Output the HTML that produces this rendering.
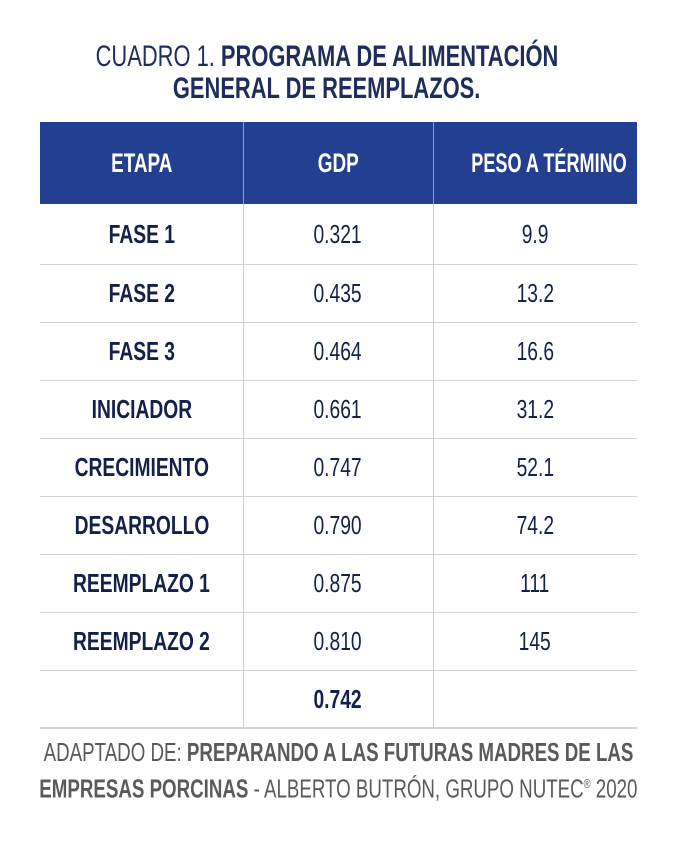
<!DOCTYPE html>
<html><head><meta charset="utf-8"><style>
body{margin:0;width:677px;height:846px;background:#fff;position:relative;overflow:hidden;font-family:"Liberation Sans",sans-serif}
.t{position:absolute;text-align:center;white-space:nowrap}
.t span{display:inline-block;transform:scaleX(.74);transform-origin:center}
.h{position:absolute;background:#d4d4d4}
.v{position:absolute;background:#cfcfcf;width:1px}
.c{font-size:26px;color:#13204a;line-height:58px;height:58px}
.b{font-weight:bold}
</style></head><body>
<div class="t" style="left:-312px;width:1277px;top:40px;font-size:30px;line-height:34px;color:#1f2d5c"><span style="transform:scaleX(.73)">CUADRO 1. <b>PROGRAMA DE ALIMENTACIÓN</b></span></div>
<div class="t" style="left:-312px;width:1277px;top:72px;font-size:30px;line-height:34px;color:#1f2d5c;font-weight:bold"><span style="transform:scaleX(.73)">GENERAL DE REEMPLAZOS.</span></div>
<div style="position:absolute;left:40px;top:122px;width:597px;height:82px;background:#22408f"></div>
<div class="v" style="left:243px;top:122px;height:605px;background:#8aa0cc"></div>
<div class="v" style="left:433px;top:122px;height:605px;background:#8aa0cc"></div>
<div class="v" style="left:243px;top:204px;height:523px"></div>
<div class="v" style="left:433px;top:204px;height:523px"></div>
<div class="t b" style="left:40px;width:203px;top:122px;line-height:82px;font-size:27px;color:#fff"><span style="transform:scaleX(.7)">ETAPA</span></div>
<div class="t b" style="left:243px;width:190px;top:122px;line-height:82px;font-size:27px;color:#fff"><span style="transform:scaleX(.7)">GDP</span></div>
<div class="t b" style="left:433px;width:204px;top:122px;line-height:82px;font-size:27px;color:#fff"><span style="transform:scaleX(.67)">PESO A TÉRMINO</span></div>
<div class="h" style="left:40px;width:597px;top:264px;height:1px"></div>
<div class="h" style="left:40px;width:597px;top:322px;height:1px"></div>
<div class="h" style="left:40px;width:597px;top:380px;height:1px"></div>
<div class="h" style="left:40px;width:597px;top:438px;height:1px"></div>
<div class="h" style="left:40px;width:597px;top:496px;height:1px"></div>
<div class="h" style="left:40px;width:597px;top:554px;height:1px"></div>
<div class="h" style="left:40px;width:597px;top:612px;height:1px"></div>
<div class="h" style="left:40px;width:597px;top:670px;height:1px"></div>
<div class="h" style="left:40px;width:597px;top:727px;height:2px"></div>

<div class="t c b" style="left:40px;width:203px;top:205px"><span>FASE 1</span></div>
<div class="t c" style="left:243px;width:190px;top:205px"><span>0.321</span></div>
<div class="t c" style="left:433px;width:204px;top:205px"><span>9.9</span></div>
<div class="t c b" style="left:40px;width:203px;top:264px"><span>FASE 2</span></div>
<div class="t c" style="left:243px;width:190px;top:264px"><span>0.435</span></div>
<div class="t c" style="left:433px;width:204px;top:264px"><span>13.2</span></div>
<div class="t c b" style="left:40px;width:203px;top:322px"><span>FASE 3</span></div>
<div class="t c" style="left:243px;width:190px;top:322px"><span>0.464</span></div>
<div class="t c" style="left:433px;width:204px;top:322px"><span>16.6</span></div>
<div class="t c b" style="left:40px;width:203px;top:380px"><span>INICIADOR</span></div>
<div class="t c" style="left:243px;width:190px;top:380px"><span>0.661</span></div>
<div class="t c" style="left:433px;width:204px;top:380px"><span>31.2</span></div>
<div class="t c b" style="left:40px;width:203px;top:438px"><span>CRECIMIENTO</span></div>
<div class="t c" style="left:243px;width:190px;top:438px"><span>0.747</span></div>
<div class="t c" style="left:433px;width:204px;top:438px"><span>52.1</span></div>
<div class="t c b" style="left:40px;width:203px;top:496px"><span>DESARROLLO</span></div>
<div class="t c" style="left:243px;width:190px;top:496px"><span>0.790</span></div>
<div class="t c" style="left:433px;width:204px;top:496px"><span>74.2</span></div>
<div class="t c b" style="left:40px;width:203px;top:554px"><span>REEMPLAZO 1</span></div>
<div class="t c" style="left:243px;width:190px;top:554px"><span>0.875</span></div>
<div class="t c" style="left:433px;width:204px;top:554px"><span>111</span></div>
<div class="t c b" style="left:40px;width:203px;top:612px"><span>REEMPLAZO 2</span></div>
<div class="t c" style="left:243px;width:190px;top:612px"><span>0.810</span></div>
<div class="t c" style="left:433px;width:204px;top:612px"><span>145</span></div>
<div class="t c b" style="left:243px;width:190px;top:670px"><span>0.742</span></div>

<div class="t" style="left:-300px;width:1277px;top:736px;font-size:26px;line-height:32px;color:#5a5a5a"><span style="transform:scaleX(.72)">ADAPTADO DE: <b>PREPARANDO A LAS FUTURAS MADRES DE LAS</b></span></div>
<div class="t" style="left:-300px;width:1277px;top:768px;font-size:26px;line-height:32px;color:#5a5a5a"><span style="transform:scaleX(.72)"><b>EMPRESAS PORCINAS</b> - ALBERTO BUTRÓN, GRUPO NUTEC<sup style="font-size:13px">®</sup> 2020</span></div>
</body></html>
